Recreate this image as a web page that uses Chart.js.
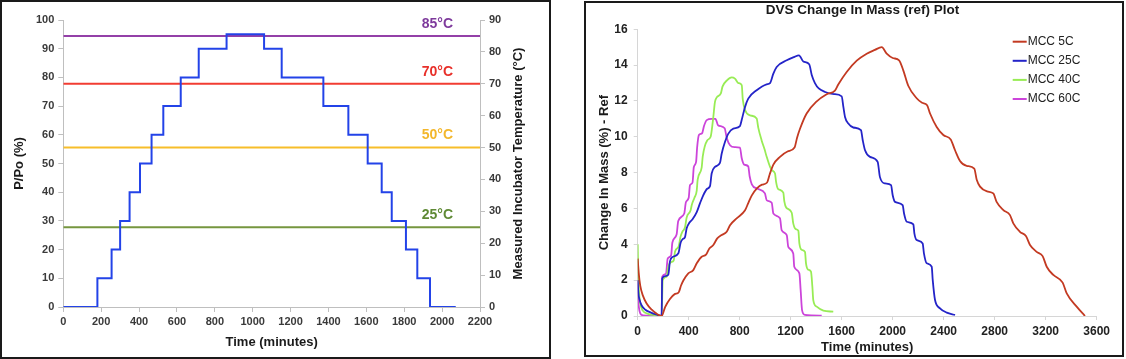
<!DOCTYPE html>
<html>
<head>
<meta charset="utf-8">
<script src="https://cdn.jsdelivr.net/npm/chart.js@4.4.1/dist/chart.umd.min.js"></script>
<style>
  body { margin: 0; background: #fff; width: 1126px; height: 359px; position: relative; overflow: hidden; }
  .panel { position: absolute; box-sizing: border-box; border: 2px solid #1a1a1a; background: #fff; }
  #p1 { left: 0; top: 0; width: 551px; height: 359px; }
  #p2 { left: 584px; top: 1px; width: 540px; height: 356px; }
  canvas { position: absolute; left: 0; top: 0; }
</style>
</head>
<body>
<div class="panel" id="p1"><canvas id="rhChart" width="547" height="355"></canvas></div>
<div class="panel" id="p2"><canvas id="dvsChart" width="536" height="352"></canvas></div>
<script>
const FONT = "'Liberation Sans', Arial, sans-serif";

// ---- left chart: RH program + incubator temperatures ----
const stepStart = [0, 180, 255, 300, 350, 405, 466, 528, 620, 715, 862, 1060, 1153, 1373, 1505, 1607, 1681, 1734, 1809, 1869, 1936, 2072];
const stepRH = [0, 10, 20, 30, 40, 50, 60, 70, 80, 90, 95, 90, 80, 70, 60, 50, 40, 30, 20, 10, 0, 0];
const tempLines = [85, 70, 50, 25];
const tempLabels = ["85°C", "70°C", "50°C", "25°C"];
const tempColors = ["#9440A8", "#F23C32", "#F7BE2A", "#76963F"];
const tempTextColors = ["#7E3A9C", "#E8302A", "#F3B72C", "#5F8A35"];

// ---- right chart: DVS change in mass ----
const seriesNames = ["MCC 5C", "MCC 25C", "MCC 40C", "MCC 60C"];
const seriesColors = ["#C33A22", "#2424C8", "#98EC55", "#CC44DA"];

const mcc5Time = [0, 8, 20, 40, 70, 110, 150, 188, 215, 253, 290, 322, 340, 358, 397, 436, 463, 502, 536, 562, 593, 624, 659, 698, 724, 776, 842, 867, 894, 935, 975, 1015, 1035, 1064, 1116, 1175, 1230, 1250, 1273, 1325, 1404, 1482, 1547, 1573, 1639, 1718, 1796, 1860, 1914, 1953, 2000, 2050, 2083, 2122, 2188, 2230, 2270, 2293, 2345, 2397, 2455, 2489, 2528, 2580, 2640, 2659, 2685, 2740, 2789, 2815, 2868, 2920, 2946, 2998, 3045, 3077, 3129, 3176, 3208, 3260, 3333, 3365, 3443, 3508];
const mcc5Mass = [3.2, 2.4, 1.7, 1.15, 0.7, 0.35, 0.12, 0, 0.5, 0.95, 1.22, 1.33, 1.7, 1.98, 2.38, 2.56, 2.94, 3.31, 3.42, 3.77, 3.96, 4.33, 4.52, 4.7, 5.07, 5.45, 5.9, 6.3, 6.72, 7.12, 7.33, 7.45, 7.9, 8.45, 8.88, 9.18, 9.4, 9.95, 10.45, 11.3, 11.98, 12.38, 12.58, 12.92, 13.62, 14.25, 14.64, 14.85, 15.0, 14.64, 14.4, 14.27, 13.71, 12.85, 12.15, 11.9, 11.76, 11.3, 10.55, 10.1, 9.85, 9.25, 8.65, 8.38, 8.22, 7.6, 7.22, 6.95, 6.84, 6.37, 5.91, 5.63, 5.17, 4.7, 4.46, 3.96, 3.58, 3.34, 2.75, 2.29, 1.86, 1.26, 0.52, 0];

const mcc25Time = [0, 5, 15, 30, 60, 100, 150, 188, 192, 215, 240, 253, 275, 319, 337, 355, 371, 384, 405, 430, 463, 489, 515, 545, 567, 580, 606, 645, 659, 685, 711, 750, 802, 816, 842, 867, 933, 1011, 1038, 1064, 1090, 1169, 1225, 1265, 1299, 1345, 1365, 1390, 1420, 1470, 1540, 1600, 1613, 1626, 1652, 1691, 1751, 1765, 1783, 1822, 1882, 1900, 1940, 1987, 2000, 2018, 2078, 2089, 2110, 2162, 2170, 2188, 2235, 2245, 2267, 2306, 2314, 2332, 2371, 2424, 2489];
const mcc25Mass = [2.0, 1.3, 0.9, 0.6, 0.35, 0.2, 0.07, 0, 2.1, 2.22, 2.3, 3.05, 3.3, 3.5, 4.1, 4.3, 4.4, 4.9, 5.2, 5.4, 5.8, 6.3, 6.75, 7.1, 7.25, 7.95, 8.32, 8.55, 9.07, 9.72, 10.18, 10.46, 10.6, 10.95, 11.67, 12.13, 12.6, 12.93, 13.0, 13.53, 13.9, 14.27, 14.45, 14.55, 14.2, 14.05, 13.45, 13.0, 12.7, 12.5, 12.38, 12.26, 11.67, 11.11, 10.74, 10.52, 10.37, 9.81, 9.25, 8.88, 8.6, 7.75, 7.4, 7.3, 6.74, 6.37, 6.19, 5.72, 5.26, 5.11, 4.61, 4.24, 4.05, 3.5, 2.94, 2.75, 2.0, 0.89, 0.43, 0.19, 0.06];

const mcc40Time = [0, 4, 10, 20, 40, 80, 140, 188, 196, 227, 240, 260, 282, 293, 322, 335, 350, 371, 384, 415, 424, 445, 463, 470, 502, 510, 545, 572, 590, 606, 620, 652, 665, 700, 737, 763, 790, 816, 824, 842, 881, 933, 946, 972, 995, 1011, 1051, 1077, 1085, 1100, 1142, 1150, 1165, 1208, 1220, 1240, 1260, 1268, 1285, 1312, 1320, 1335, 1359, 1370, 1377, 1404, 1456, 1534];
const mcc40Mass = [4.0, 2.6, 1.4, 0.7, 0.3, 0.12, 0.05, 0, 2.0, 2.2, 2.75, 3.0, 3.1, 3.6, 3.9, 4.4, 4.7, 4.95, 5.5, 5.9, 6.2, 6.6, 7.0, 7.6, 8.3, 8.9, 9.8, 10.0, 10.9, 11.95, 12.2, 12.42, 12.8, 13.15, 13.32, 13.25, 13.0, 12.88, 12.1, 11.5, 11.2, 11.02, 10.5, 9.8, 9.3, 8.9, 8.14, 7.95, 7.5, 7.1, 6.88, 6.4, 6.05, 5.76, 5.17, 4.85, 4.76, 4.05, 3.7, 3.58, 2.94, 2.6, 2.47, 1.63, 0.89, 0.52, 0.3, 0.24];

const mcc60Time = [0, 4, 10, 20, 40, 188, 192, 222, 235, 262, 272, 305, 318, 365, 378, 400, 410, 430, 440, 458, 466, 480, 505, 520, 541, 580, 610, 630, 682, 698, 724, 760, 802, 816, 835, 867, 878, 895, 940, 998, 1011, 1051, 1064, 1116, 1129, 1169, 1181, 1220, 1228, 1268, 1278, 1289, 1312, 1443];
const mcc60Mass = [2.0, 1.0, 0.45, 0.15, 0.04, 0, 2.2, 2.35, 3.2, 3.38, 4.1, 4.55, 5.3, 5.72, 6.35, 6.6, 7.3, 7.45, 8.3, 8.6, 9.4, 10.1, 10.2, 10.6, 10.93, 11.0, 11.0, 10.65, 10.48, 9.95, 9.53, 9.42, 9.4, 8.8, 8.45, 8.35, 7.8, 7.35, 7.1, 6.84, 6.47, 6.32, 5.72, 5.45, 4.79, 4.51, 3.86, 3.49, 2.75, 2.38, 1.45, 0.33, 0.06, 0.02];

function pairs(xs, ys) {
  return xs.map((x, i) => ({ x: x, y: ys[i] }));
}

// plain numbers, no thousands separator
function plainTick(value) {
  return String(value);
}

// ---------- left chart ----------
const leftTexts = {
  id: "leftTexts",
  afterDatasetsDraw(chart) {
    const { ctx, chartArea: a, scales } = chart;
    ctx.save();
    ctx.font = "bold 14px " + FONT;
    ctx.textAlign = "right";
    ctx.textBaseline = "middle";
    tempLines.forEach((t, i) => {
      ctx.fillStyle = tempTextColors[i];
      ctx.fillText(tempLabels[i], a.right - 27, scales.y2.getPixelForValue(t) - 12);
    });
    // right axis title reads bottom-to-top like the left one
    ctx.translate(a.right + 38, (a.top + a.bottom) / 2);
    ctx.rotate(-Math.PI / 2);
    ctx.textAlign = "center";
    ctx.font = "bold 13px " + FONT;
    ctx.fillStyle = "#1a1a1a";
    ctx.fillText("Measured Incubator Temperature (°C)", 0, 0);
    ctx.restore();
  },
};

const leftDatasets = [
  {
    data: pairs(stepStart, stepRH),
    stepped: true,
    borderColor: "#2343E8",
    borderWidth: 2,
    pointRadius: 0,
    yAxisID: "y",
  },
];
tempLines.forEach((t, i) => {
  leftDatasets.push({
    data: [{ x: 0, y: t }, { x: 2200, y: t }],
    borderColor: tempColors[i],
    borderWidth: 2,
    pointRadius: 0,
    yAxisID: "y2",
  });
});

const axisGray = "#BFBFBF";
const tickFontL = { family: FONT, size: 11, weight: "bold" };

new Chart(document.getElementById("rhChart"), {
  type: "line",
  data: { datasets: leftDatasets },
  options: {
    responsive: false,
    animation: false,
    layout: { padding: { top: 18, left: 0, right: 0, bottom: 0 } },
    plugins: { legend: { display: false }, tooltip: { enabled: false } },
    scales: {
      x: {
        type: "linear",
        min: 0,
        max: 2200,
        ticks: { stepSize: 200, autoSkip: false, maxRotation: 0, font: tickFontL, color: "#3a3a3a", padding: 3, callback: plainTick },
        grid: { drawOnChartArea: false, tickLength: 5, color: axisGray },
        border: { color: axisGray },
        title: { display: true, text: "Time (minutes)", font: { family: FONT, size: 13, weight: "bold" }, color: "#1a1a1a", padding: { top: 0, bottom: 7 } },
        afterFit(s) { s.height = 50; },
      },
      y: {
        min: 0,
        max: 100,
        ticks: { stepSize: 10, font: tickFontL, color: "#3a3a3a", padding: 4, callback: plainTick },
        grid: { drawOnChartArea: false, tickLength: 5, color: axisGray },
        border: { color: axisGray },
        title: { display: true, text: "P/Po (%)", font: { family: FONT, size: 13, weight: "bold" }, color: "#1a1a1a", padding: { top: 10, bottom: 0 } },
        afterFit(s) { s.width = 61.3; },
      },
      y2: {
        position: "right",
        min: 0,
        max: 90,
        ticks: { stepSize: 10, font: tickFontL, color: "#3a3a3a", padding: 4, callback: plainTick },
        grid: { drawOnChartArea: false, tickLength: 5, color: axisGray },
        border: { color: axisGray },
        afterFit(s) { s.width = 69; },
      },
    },
  },
  plugins: [leftTexts],
});

// ---------- right chart ----------
const rightTexts = {
  id: "rightTexts",
  afterDatasetsDraw(chart) {
    const { ctx, chartArea: a } = chart;
    ctx.save();
    ctx.fillStyle = "#1a1a1a";
    ctx.font = "bold 13.5px " + FONT;
    ctx.textAlign = "center";
    ctx.textBaseline = "middle";
    ctx.fillText("DVS Change In Mass (ref) Plot", 276.5, 7.5);
    // legend
    ctx.font = "12px " + FONT;
    ctx.textAlign = "left";
    seriesNames.forEach((name, i) => {
      const y = a.top + 12.4 + i * 19.1;
      ctx.strokeStyle = seriesColors[i];
      ctx.lineWidth = 2;
      ctx.beginPath();
      ctx.moveTo(a.right - 84, y);
      ctx.lineTo(a.right - 70, y);
      ctx.stroke();
      ctx.fillStyle = "#222";
      ctx.fillText(name, a.right - 69, y);
    });
    ctx.restore();
  },
};

const dvsSeries = [
  pairs(mcc5Time, mcc5Mass),
  pairs(mcc25Time, mcc25Mass),
  pairs(mcc40Time, mcc40Mass),
  pairs(mcc60Time, mcc60Mass),
];

const axisGrayR = "#D6D6D6";
const tickFontR = { family: FONT, size: 12, weight: "bold" };

new Chart(document.getElementById("dvsChart"), {
  type: "line",
  data: {
    datasets: dvsSeries.map((d, i) => ({
      label: seriesNames[i],
      data: d,
      borderColor: seriesColors[i],
      borderWidth: 1.8,
      pointRadius: 0,
      cubicInterpolationMode: "monotone",
    })),
  },
  options: {
    responsive: false,
    animation: false,
    layout: { padding: { top: 26.3, left: 0, right: 25.3, bottom: 0 } },
    plugins: { legend: { display: false }, tooltip: { enabled: false } },
    scales: {
      x: {
        type: "linear",
        min: 0,
        max: 3600,
        ticks: { stepSize: 400, autoSkip: false, maxRotation: 0, font: tickFontR, color: "#222", padding: 4, callback: plainTick },
        grid: { drawOnChartArea: false, tickLength: 4, color: axisGrayR },
        border: { color: axisGrayR },
        title: { display: true, text: "Time (minutes)", font: { family: FONT, size: 13, weight: "bold" }, color: "#1a1a1a", padding: { top: 0, bottom: 0 } },
        afterFit(s) { s.height = 39; },
      },
      y: {
        min: 0,
        max: 16,
        ticks: { stepSize: 2, font: tickFontR, color: "#222", padding: 6, callback: plainTick },
        grid: { drawOnChartArea: false, tickLength: 4, color: axisGrayR },
        border: { color: axisGrayR },
        title: { display: true, text: "Change In Mass (%) - Ref", font: { family: FONT, size: 13, weight: "bold" }, color: "#1a1a1a", padding: { top: 11, bottom: 0 } },
        afterFit(s) { s.width = 51.7; },
      },
    },
  },
  plugins: [rightTexts],
});
</script>
</body>
</html>
